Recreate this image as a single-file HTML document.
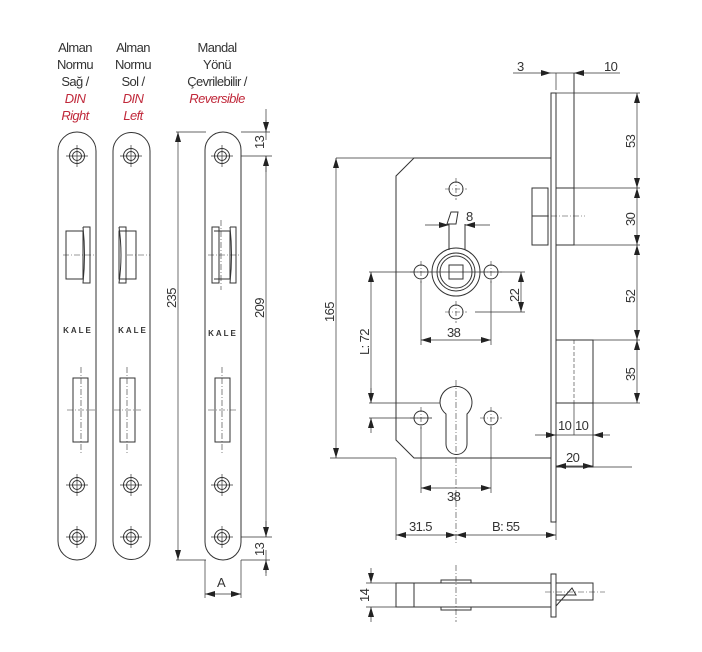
<!DOCTYPE html>
<html><head><meta charset="utf-8"><style>
html,body{margin:0;padding:0;background:#fff;}
svg{display:block;}
text{font-family:"Liberation Sans Narrow","Liberation Sans",sans-serif;font-size:13px;fill:#333;letter-spacing:-0.6px;}
.r{fill:#c0283a;font-style:italic;}
</style></head><body>
<svg width="702" height="652" viewBox="0 0 702 652" xmlns="http://www.w3.org/2000/svg">
<defs>
<marker id="a" viewBox="0 0 10 6" refX="10" refY="3" markerWidth="10" markerHeight="6" markerUnits="userSpaceOnUse" orient="auto-start-reverse"><path d="M0,0L10,3L0,6z" fill="#222"/></marker>
<g id="scr"><circle r="7.5" fill="none" stroke="#333" stroke-width="1"/><circle r="4.5" fill="none" stroke="#333" stroke-width="1"/><path d="M-11,0H11M0,-11V11" stroke="#333" stroke-width="0.7"/></g>
<g id="hole"><circle r="7" fill="none" stroke="#333" stroke-width="1"/><path d="M-11,0H11M0,-11V11" stroke="#333" stroke-width="0.6" stroke-dasharray="5,2,1,2"/></g>
</defs>
<g text-anchor="middle">
<text x="75" y="52">Alman</text><text x="75" y="69">Normu</text><text x="75" y="86">Sağ /</text><text x="75" y="103" class="r">DIN</text><text x="75" y="120" class="r">Right</text>
<text x="133" y="52">Alman</text><text x="133" y="69">Normu</text><text x="133" y="86">Sol /</text><text x="133" y="103" class="r">DIN</text><text x="133" y="120" class="r">Left</text>
<text x="217" y="52">Mandal</text><text x="217" y="69">Yönü</text><text x="217" y="86">Çevrilebilir /</text><text x="217" y="103" class="r">Reversible</text>
</g>
<!-- faceplates -->
<g stroke="#333" fill="none" stroke-width="1">
<path d="M58,151A19,19 0 0 1 96,151V541A19,19 0 0 1 58,541Z"/>
<path d="M113,151A18.5,18.5 0 0 1 150,151V541A18.5,18.5 0 0 1 113,541Z"/>
<path d="M205,150A18,18 0 0 1 241,150V542A18,18 0 0 1 205,542Z"/>
</g>
<g>
<use href="#scr" x="77" y="156"/><use href="#scr" x="77" y="485"/><use href="#scr" x="77" y="537"/>
<use href="#scr" x="131" y="156"/><use href="#scr" x="131" y="485"/><use href="#scr" x="131" y="537"/>
<use href="#scr" x="222" y="156"/><use href="#scr" x="222" y="485"/><use href="#scr" x="222" y="537"/>
</g>
<g stroke="#333" fill="none" stroke-width="1">
<rect x="66" y="231" width="17" height="48"/><path d="M83,227H90V283H83Q86,255 83,227"/>
<rect x="119" y="231" width="17" height="48"/><path d="M119,227H126V283H119Q123,255 119,227"/>
<rect x="212" y="227" width="7" height="56"/><path d="M214,231H230V279H214"/><path d="M230,227H236V283H230Q233,255 230,227"/>
<rect x="73" y="378" width="15" height="64"/><rect x="120" y="378" width="15" height="64"/><rect x="215" y="378" width="15" height="64"/>
</g>
<g stroke="#333" stroke-width="0.6" stroke-dasharray="6,2,1,2" fill="none">
<path d="M63,255H95M127,255H150M208,255H240M221,220V290M81,367V454M67,410H97M127,367V454M114,410H141M222,367V454M208,410H238"/>
</g>
<g text-anchor="middle">
<text x="78" y="333" style="font-size:8px;font-weight:bold;letter-spacing:2px">KALE</text>
<text x="133" y="333" style="font-size:8px;font-weight:bold;letter-spacing:2px">KALE</text>
<text x="223" y="336" style="font-size:8px;font-weight:bold;letter-spacing:2px">KALE</text>
</g>
<!-- left dims -->
<g stroke="#333" stroke-width="0.7" fill="none">
<path d="M176,132H206M176,560H206"/>
<path d="M266,109V140M241,156H272M241,537H272M266,573V550M266,156V537"/>
<path d="M241,132H270M205,560V598M241,560H270M241,560V598"/>
<line x1="266" y1="120" x2="266" y2="132" marker-end="url(#a)"/>
<line x1="266" y1="172" x2="266" y2="156" marker-end="url(#a)"/>
<line x1="266" y1="521" x2="266" y2="537" marker-end="url(#a)"/>
<line x1="266" y1="576" x2="266" y2="560" marker-end="url(#a)"/>
<line x1="178" y1="132" x2="178" y2="560" marker-start="url(#a)" marker-end="url(#a)"/>
<line x1="205" y1="594" x2="241" y2="594" marker-start="url(#a)" marker-end="url(#a)"/>
</g>
<text transform="translate(176,308) rotate(-90)">235</text>
<text transform="translate(264,318) rotate(-90)">209</text>
<text transform="translate(264,149) rotate(-90)">13</text>
<text transform="translate(264,556) rotate(-90)">13</text>
<text x="217" y="587">A</text>

<!-- lock body -->
<g stroke="#333" stroke-width="1" fill="none">
<path d="M551,158H414L396,176V440L414,458H551"/>
<rect x="551" y="93" width="5" height="429"/>
<path d="M574,73V188"/>
<rect x="556" y="188" width="18" height="57"/>
<rect x="532" y="188" width="16" height="57"/><path d="M532,216H548"/>
<rect x="556" y="340" width="37" height="63"/>
<rect x="556" y="403" width="37" height="64"/>
<circle cx="456" cy="272" r="24"/><circle cx="456" cy="272" r="19"/><circle cx="456" cy="272" r="16"/>
<rect x="449" y="265" width="14" height="14"/>
<path d="M447,224L451,212H458L456,224z"/>
<path d="M449,224V250M465,224V250"/>
<path d="M440,403A16,16 0 1 1 467,414V444A10,10 0 0 1 446,444V414A16,16 0 0 1 440,403z"/>
</g>
<use href="#hole" x="456" y="189"/><use href="#hole" x="421" y="272"/><use href="#hole" x="491" y="272"/><use href="#hole" x="456" y="312"/>
<use href="#hole" x="421" y="418"/><use href="#hole" x="491" y="418"/>
<g stroke="#333" stroke-width="0.6" fill="none" stroke-dasharray="6,2,1,2">
<path d="M456,380V545M540,216H585M456,565V622M545,592H605"/>
<path d="M574,340V403" stroke-dasharray="4,2"/>
</g>
<g stroke="#333" stroke-width="0.7" fill="none">
<path d="M574,403V435"/>
<path d="M336,158H414M369,272H525M475,312H525M369,403H440M369,418H432"/>
<path d="M421,280V345M491,280V345M421,426V493M491,426V493"/>
<path d="M396,458V540M556,522V540M593,467H632M556,403H640M556,340H640M574,245H640M574,188H640M556,93H640M556,73V90"/>
<line x1="336" y1="158" x2="336" y2="458" marker-start="url(#a)" marker-end="url(#a)"/>
<path d="M330,458H396"/>
<line x1="371" y1="272" x2="371" y2="403" marker-start="url(#a)"/>
<line x1="371" y1="433" x2="371" y2="418" marker-end="url(#a)"/>
<line x1="371" y1="388" x2="371" y2="403" marker-end="url(#a)"/>
<line x1="521" y1="272" x2="521" y2="312" marker-start="url(#a)" marker-end="url(#a)"/>
<line x1="421" y1="340" x2="491" y2="340" marker-start="url(#a)" marker-end="url(#a)"/>
<line x1="421" y1="488" x2="491" y2="488" marker-start="url(#a)" marker-end="url(#a)"/>
<line x1="396" y1="535" x2="456" y2="535" marker-start="url(#a)" marker-end="url(#a)"/>
<line x1="456" y1="535" x2="556" y2="535" marker-start="url(#a)" marker-end="url(#a)"/>
<line x1="425" y1="225" x2="449" y2="225" marker-end="url(#a)"/>
<line x1="490" y1="225" x2="465" y2="225" marker-end="url(#a)"/>
<line x1="513" y1="73" x2="551" y2="73" marker-end="url(#a)"/>
<line x1="620" y1="73" x2="574" y2="73" marker-end="url(#a)"/>
<path d="M551,73H574"/>
<line x1="535" y1="435" x2="556" y2="435" marker-end="url(#a)"/>
<line x1="610" y1="435" x2="593" y2="435" marker-end="url(#a)"/>
<path d="M556,435H593"/>
<line x1="556" y1="466" x2="593" y2="466" marker-start="url(#a)" marker-end="url(#a)"/>
<line x1="637" y1="93" x2="637" y2="188" marker-start="url(#a)" marker-end="url(#a)"/>
<line x1="637" y1="188" x2="637" y2="245" marker-start="url(#a)" marker-end="url(#a)"/>
<line x1="637" y1="245" x2="637" y2="340" marker-start="url(#a)" marker-end="url(#a)"/>
<line x1="637" y1="340" x2="637" y2="403" marker-start="url(#a)" marker-end="url(#a)"/>
</g>
<text x="517" y="71">3</text><text x="604" y="71">10</text>
<text x="466" y="221">8</text>
<text x="447" y="337">38</text><text x="447" y="501">38</text>
<text x="409" y="531">31.5</text><text x="492" y="531">B: 55</text>
<text x="558" y="430">10</text><text x="575" y="430">10</text>
<text x="566" y="462">20</text>
<text transform="translate(334,322) rotate(-90)">165</text>
<text transform="translate(369,355) rotate(-90)">L: 72</text>
<text transform="translate(519,302) rotate(-90)">22</text>
<text transform="translate(635,148) rotate(-90)">53</text>
<text transform="translate(635,226) rotate(-90)">30</text>
<text transform="translate(635,303) rotate(-90)">52</text>
<text transform="translate(635,381) rotate(-90)">35</text>
<!-- bottom view -->
<g stroke="#333" stroke-width="1" fill="none">
<rect x="396" y="583" width="155" height="24"/><path d="M414,583V607"/>
<rect x="441" y="580" width="30" height="3"/><rect x="441" y="607" width="30" height="3"/>
<rect x="551" y="574" width="5" height="43"/>
<path d="M556,583H593V600H556"/>
<path d="M556,606L572,588L576,595H556"/>
</g>
<g stroke="#333" stroke-width="0.7" fill="none">
<path d="M366,583H396M366,607H396"/>
<line x1="371" y1="568" x2="371" y2="583" marker-end="url(#a)"/>
<line x1="371" y1="622" x2="371" y2="607" marker-end="url(#a)"/>
</g>
<text transform="translate(369,602) rotate(-90)">14</text>
</svg>
</body></html>
